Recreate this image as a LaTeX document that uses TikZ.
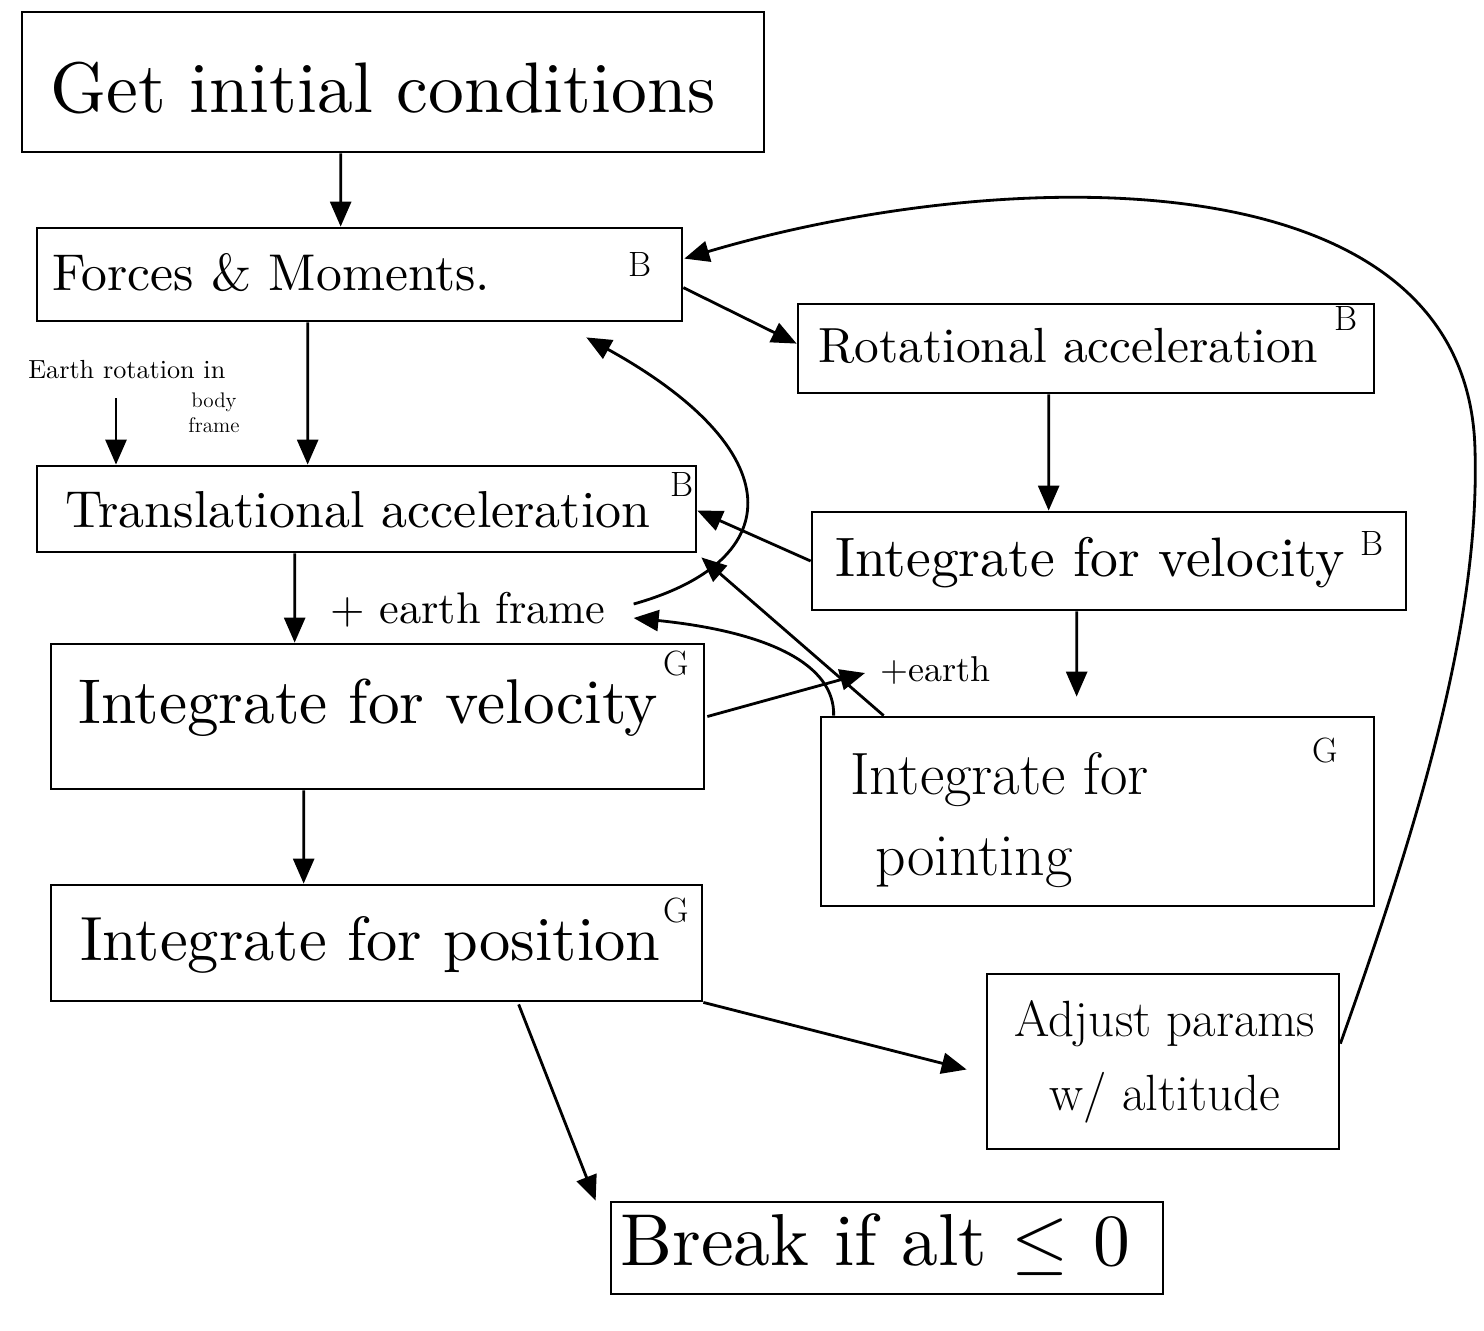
\documentclass[tikz,border=0pt]{standalone}
\usetikzlibrary{arrows.meta,calc}
\begin{document}
\begin{tikzpicture}[x=0.02cm,y=-0.02cm,
  box/.style={draw,line width=1.6pt,inner sep=0pt,rectangle},
  arr/.style={line width=1.6pt,-{Triangle[length=0.5cm,width=0.42cm]}},
  txt/.style={inner sep=0pt,anchor=west},
  ctxt/.style={inner sep=0pt,align=center},
  sup/.style={inner sep=0pt,font=\fontsize{20}{24}\selectfont}]
\useasboundingbox (0,0) rectangle (1484,1330);
\fill[white] (0,0) rectangle (1484,1330);

% boxes
\node[box,minimum width=14.84cm,minimum height=2.80cm] (init)   at (393,82) {};
\node[box,minimum width=12.90cm,minimum height=1.86cm] (forces) at (359.5,274.5) {};
\node[box,minimum width=11.52cm,minimum height=1.78cm] (rot)    at (1086,348.5) {};
\node[box,minimum width=13.18cm,minimum height=1.72cm] (trans)  at (366.5,509) {};
\node[box,minimum width=11.88cm,minimum height=1.96cm] (velB)   at (1109,561) {};
\node[box,minimum width=13.06cm,minimum height=2.90cm] (velG)   at (377.5,716.5) {};
\node[box,minimum width=11.06cm,minimum height=3.78cm] (point)  at (1097.5,811.5) {};
\node[box,minimum width=13.02cm,minimum height=2.32cm] (pos)    at (376.5,943) {};
\node[box,minimum width=7.04cm,minimum height=3.50cm]  (adjust) at (1163,1061.5) {};
\node[box,minimum width=11.04cm,minimum height=1.84cm] (brk)    at (887,1248) {};

% texts
\node[txt] (tinit)   at (50,88)   {\resizebox{13.3cm}{!}{Get initial conditions}};
\node[txt] (tforces) at (52,273)  {\resizebox{8.76cm}{!}{Forces \& Moments.}};
\node[sup] (sforces) at (640,264) {B};
\node[txt] (trot)    at (818,346) {\resizebox{10.0cm}{!}{Rotational acceleration}};
\node[sup] (srot)    at (1346,318) {B};
\node[txt] (ttrans)  at (65,510)  {\resizebox{11.7cm}{!}{Translational acceleration}};
\node[sup] (strans)  at (682,484) {B};
\node[txt] (tvelB)   at (835,563) {\resizebox{10.2cm}{!}{Integrate for velocity}};
\node[sup] (svelB)   at (1372,543) {B};
\node[txt] (tvelG)   at (78,708)  {\resizebox{11.6cm}{!}{Integrate for velocity}};
\node[sup] (svelG)   at (676,663) {G};
\node[inner sep=0pt,anchor=north west,align=left,font=\fontsize{34}{46}\selectfont] (tpoint) at (850,752) {Integrate for\\\hspace*{0.5cm}pointing};
\node[sup] (spoint)  at (1325,750) {G};
\node[txt] (tpos)    at (80,945)  {\resizebox{11.6cm}{!}{Integrate for position}};
\node[sup] (spos)    at (676,910) {G};
\node[ctxt,font=\fontsize{29}{42}\selectfont] (tadjust) at (1165,1062) {Adjust params\\w/ altitude};
\node[txt] (tbrk)    at (620,1245) {\resizebox{10.2cm}{!}{Break if alt $\leq$ 0}};

\node[txt] (earthrot) at (28,370) {\resizebox{3.94cm}{!}{Earth rotation in}};
\node[ctxt,font=\fontsize{12}{14}\selectfont] (bodyframe) at (214,413) {body\\frame};
\node[txt] (earthframe) at (330,610) {\resizebox{5.5cm}{!}{+ earth frame}};
\node[txt] (plusearth) at (880,670) {\resizebox{2.2cm}{!}{+earth}};
\coordinate (erstart) at (116,398);

% connectors
\draw[arr] ($(init.south west)+(320,0)$) -- ($(forces.north west)+(305,0)$);
\draw[arr] ($(forces.north east)+(0,61)$) -- ($(rot.north west)+(0,41)$);
\draw[arr] ($(rot.south west)+(252,0)$) -- ($(velB.north west)+(238,0)$);
\draw[arr] ($(forces.south west)+(272,0)$) -- ($(trans.north west)+(272,0)$);
\draw[arr] (erstart) -- (erstart |- trans.north);
\draw[arr] ($(trans.south west)+(259,0)$) -- ($(velG.north west)+(245,0)$);
\draw[arr] ($(velG.south west)+(254,0)$) -- ($(pos.north west)+(254,0)$);
\draw[arr] (velB.west) -- ($(trans.north east)+(0,46)$);
\draw[arr] ($(velB.south west)+(266,0)$) -- ($(point.north west)+(257,-19)$);
\draw[arr] ($(point.north west)+(64,0)$) -- ($(trans.south east)+(4,4)$);
\draw[arr] ($(point.north west)+(14,0)$) .. controls (835,665) and (770,632) .. ($(earthframe.east)+(28,8)$);
\draw[arr] ($(velG.east)+(2,0)$) -- ($(plusearth.west)+(-15,3)$);
\draw[arr] ($(earthframe.east)+(28,-6)$) .. controls (790,560) and (790,450) .. ($(forces.south east)+(-97,15)$);
\draw[arr] ($(pos.south west)+(469,2)$) -- ($(brk.north west)+(-14,0)$);
\draw[arr] (pos.south east) -- ($(adjust.west)+(-19,8)$);
\draw[arr] ($(adjust.north east)+(0,71)$) .. controls (1420,820) and (1480,620) .. (1475,450)
   .. controls (1468,150) and (1000,165) .. ($(forces.north east)+(1,32)$);
\end{tikzpicture}
\end{document}
